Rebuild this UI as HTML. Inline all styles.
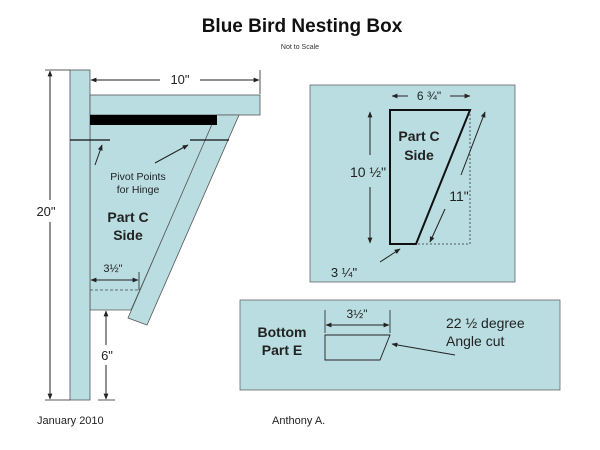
<!DOCTYPE html>
<html><head><meta charset="utf-8"><style>
html,body{margin:0;padding:0;background:#fff;}
svg{display:block;font-family:"Liberation Sans",Arial,sans-serif;}
</style></head><body>
<svg width="600" height="450" viewBox="0 0 600 450" xmlns="http://www.w3.org/2000/svg">
<defs>
<marker id="a" viewBox="0 0 10 10" refX="9" refY="5" markerWidth="6" markerHeight="6" orient="auto-start-reverse"><path d="M0,1 L10,5 L0,9 z" fill="#222"/></marker>
</defs>
<rect width="600" height="450" fill="#fff"/>
<text x="302" y="32" font-size="19" font-weight="bold" text-anchor="middle" fill="#111">Blue Bird Nesting Box</text>
<text x="300" y="49" font-size="7" text-anchor="middle" fill="#333">Not to Scale</text>

<g fill="#b9dde0" stroke="#555" stroke-width="0.8">
<polygon points="90,115 217,115 131,310 90,310"/>
<rect x="70" y="70" width="20" height="330"/>
<rect x="90" y="95" width="170" height="20"/>
<polygon points="216,115 239,115 147,325 128,318"/>
</g>
<rect x="90" y="115" width="127" height="10" fill="#000"/>
<line x1="70" y1="140" x2="110" y2="140" stroke="#111" stroke-width="1.2"/>
<line x1="190" y1="140" x2="229" y2="140" stroke="#111" stroke-width="1.2"/>
<line x1="95" y1="165" x2="102" y2="145" stroke="#222" marker-end="url(#a)"/>
<line x1="155" y1="163" x2="188" y2="145" stroke="#222" marker-end="url(#a)"/>
<text x="138" y="180" font-size="10.5" text-anchor="middle" fill="#222">Pivot Points</text>
<text x="138" y="193" font-size="10.5" text-anchor="middle" fill="#222">for Hinge</text>
<text x="128" y="222" font-size="14" font-weight="bold" text-anchor="middle" fill="#222">Part C</text>
<text x="128" y="240" font-size="14" font-weight="bold" text-anchor="middle" fill="#222">Side</text>
<text x="113" y="272" font-size="11" text-anchor="middle" fill="#222">3½"</text>
<line x1="91" y1="280" x2="138" y2="280" stroke="#222" marker-start="url(#a)" marker-end="url(#a)"/>
<line x1="139" y1="272" x2="139" y2="290" stroke="#222" stroke-width="0.8"/>
<line x1="90" y1="290" x2="138" y2="290" stroke="#444" stroke-dasharray="3,2" stroke-width="0.8"/>

<line x1="91" y1="80" x2="160" y2="80" stroke="#222" marker-start="url(#a)"/>
<line x1="200" y1="80" x2="259" y2="80" stroke="#222" marker-end="url(#a)"/>
<line x1="260" y1="70" x2="260" y2="94" stroke="#222" stroke-width="0.8"/>
<text x="180" y="84" font-size="13" text-anchor="middle" fill="#222">10"</text>
<line x1="45" y1="70" x2="70" y2="70" stroke="#222" stroke-width="0.8"/>
<line x1="45" y1="400" x2="70" y2="400" stroke="#222" stroke-width="0.8"/>
<line x1="50" y1="71" x2="50" y2="200" stroke="#222" marker-start="url(#a)"/>
<line x1="50" y1="222" x2="50" y2="399" stroke="#222" marker-end="url(#a)"/>
<text x="46" y="216" font-size="13" text-anchor="middle" fill="#222">20"</text>
<line x1="98" y1="400" x2="115" y2="400" stroke="#222" stroke-width="0.8"/>
<line x1="106" y1="311" x2="106" y2="345" stroke="#222" marker-start="url(#a)"/>
<line x1="106" y1="365" x2="106" y2="399" stroke="#222" marker-end="url(#a)"/>
<text x="107" y="360" font-size="13" text-anchor="middle" fill="#222">6"</text>

<rect x="310" y="85" width="205" height="197" fill="#b9dde0" stroke="#666" stroke-width="0.8"/>
<polyline points="470,110 470,244 416,244" fill="none" stroke="#333" stroke-dasharray="2,2" stroke-width="0.8"/>
<polygon points="390,110 470,110 416,244 390,244" fill="none" stroke="#111" stroke-width="2"/>
<text x="419" y="141" font-size="14" font-weight="bold" text-anchor="middle" fill="#222">Part C</text>
<text x="419" y="160" font-size="14" font-weight="bold" text-anchor="middle" fill="#222">Side</text>
<line x1="392" y1="96" x2="408" y2="96" stroke="#222" marker-start="url(#a)"/>
<line x1="450" y1="96" x2="470" y2="96" stroke="#222" marker-end="url(#a)"/>
<text x="429" y="100" font-size="12" text-anchor="middle" fill="#222">6 ¾"</text>
<line x1="370" y1="112" x2="370" y2="155" stroke="#222" marker-start="url(#a)"/>
<line x1="370" y1="187" x2="370" y2="243" stroke="#222" marker-end="url(#a)"/>
<text x="368" y="177" font-size="14" text-anchor="middle" fill="#222">10 ½"</text>
<line x1="461" y1="175" x2="485" y2="112" stroke="#222" marker-end="url(#a)"/>
<line x1="445" y1="209" x2="430" y2="242" stroke="#222" marker-end="url(#a)"/>
<text x="459" y="201" font-size="14" text-anchor="middle" fill="#222">11"</text>
<line x1="380" y1="262" x2="400" y2="249" stroke="#222" marker-end="url(#a)"/>
<text x="344" y="277" font-size="13" text-anchor="middle" fill="#222">3 ¼"</text>

<rect x="240" y="300" width="320" height="90" fill="#b9dde0" stroke="#666" stroke-width="0.8"/>
<polygon points="325,335 390,335 380,360 325,360" fill="none" stroke="#222" stroke-width="0.9"/>
<line x1="325" y1="310" x2="325" y2="333" stroke="#222" stroke-width="0.8"/>
<line x1="390" y1="310" x2="390" y2="333" stroke="#222" stroke-width="0.8"/>
<line x1="326" y1="325" x2="389" y2="325" stroke="#222" marker-start="url(#a)" marker-end="url(#a)"/>
<text x="357" y="318" font-size="12" text-anchor="middle" fill="#222">3½"</text>
<text x="282" y="337" font-size="14" font-weight="bold" text-anchor="middle" fill="#222">Bottom</text>
<text x="282" y="355" font-size="14" font-weight="bold" text-anchor="middle" fill="#222">Part E</text>
<text x="446" y="328" font-size="14" fill="#222">22 ½ degree</text>
<text x="446" y="346" font-size="14" fill="#222">Angle cut</text>
<line x1="455" y1="355" x2="392" y2="344" stroke="#222" marker-end="url(#a)"/>

<text x="37" y="424" font-size="11" fill="#222">January 2010</text>
<text x="272" y="424" font-size="11" fill="#222">Anthony A.</text>
</svg>
</body></html>
